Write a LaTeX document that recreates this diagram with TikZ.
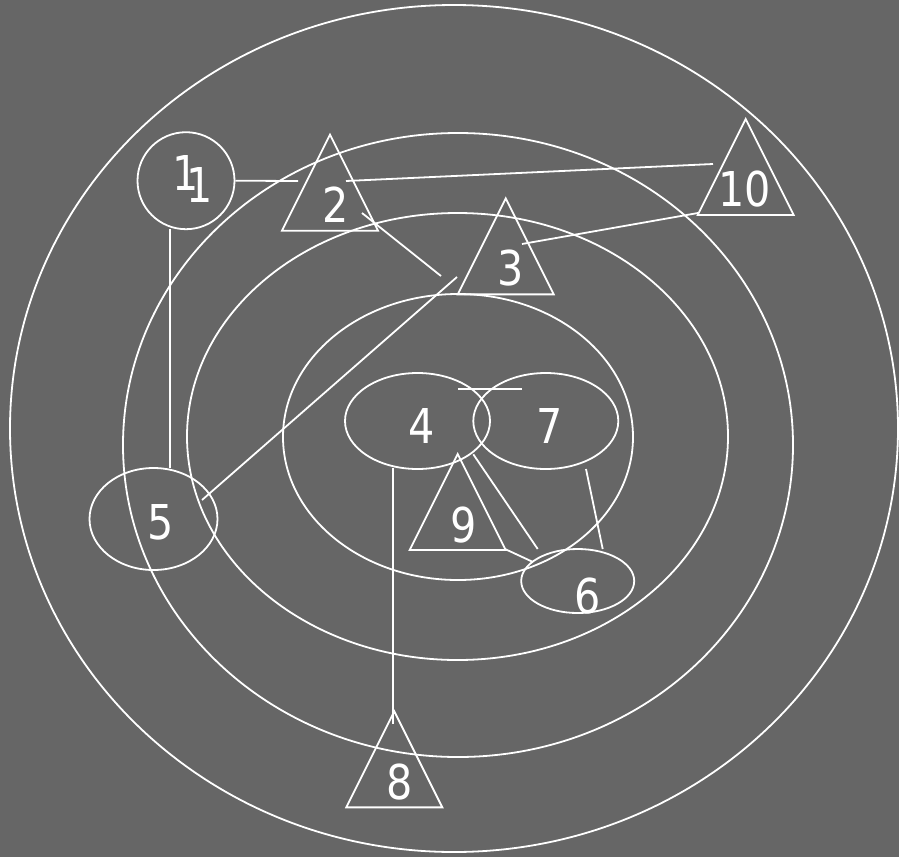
\documentclass[tikz,border=0pt]{standalone}
\usepackage{fontspec}
\setmainfont{DejaVu Sans}[FakeStretch=0.86]
\usetikzlibrary{shapes.geometric, calc}
\definecolor{slidegray}{RGB}{102,102,102}

\begin{document}
\begin{tikzpicture}[
      x=1pt, y=-1pt,
      line width=1.8pt,
      ring/.style={draw=white},
      oval/.style 2 args={draw=white, ellipse, inner sep=0pt, minimum width=#1, minimum height=#2},
      tri/.style={draw=white, isosceles triangle, shape border rotate=90,
                  isosceles triangle stretches, inner sep=0pt,
                  minimum width=96, minimum height=96, anchor=apex},
      num/.style={font=\fontsize{48}{48}\selectfont, text=white, inner sep=0pt},
      link/.style={draw=white}
  ]
    \fill[slidegray] (0,0) rectangle (899,857);
    \useasboundingbox (0,0) rectangle (899,857);

    % rings
    \draw[ring] (454,428.5) ellipse [x radius=444pt, y radius=423.5pt];
    \draw[ring] (458,445) ellipse [x radius=335pt, y radius=312pt];
    \draw[ring] (457.5,436.5) ellipse [x radius=270.5pt, y radius=223.5pt];
    \draw[ring] (458,437) ellipse [x radius=175pt, y radius=143pt];

    % shapes
    \node[draw=white, circle, inner sep=0pt, minimum size=97] (n1) at (186,180.7) {};
    \node[tri] (n2)  at (330,132.3) {};
    \node[tri] (n3)  at (505.7,196) {};
    \node[tri] (n10) at (745.7,116.7) {};
    \node[oval={145}{96}]  (n4) at (417.5,421) {};
    \node[oval={145}{96}]  (n7) at (545.8,421) {};
    \node[oval={128}{102}] (n5) at (153.5,519) {};
    \node[oval={113}{64}]  (n6) at (577.7,581) {};
    \node[tri] (n9) at (457.7,451.7) {};
    \node[tri] (n8) at (394.3,709) {};

    % numbers
    \node[num] (t1a) at (186,173)     {1};
    \node[num] (t1b) at (199.5,185)   {1};
    \node[num] (t2)  at (335.5,205)   {2};
    \node[num] (t3)  at (511,268)     {3};
    \node[num] (t10) at (744.5,189.5) {10};
    \node[num] (t4)  at (421.5,426)   {4};
    \node[num] (t7)  at (550,426)     {7};
    \node[num] (t9)  at (463.7,525.5) {9};
    \node[num] (t6)  at (588,596.5)   {6};
    \node[num] (t5)  at (161,522.5)   {5};
    \node[num] (t8)  at (399.7,782.5) {8};

    % connector ends
    \coordinate (to2)    at (298,181);
    \coordinate (from2)  at (346,181);
    \coordinate (to10)   at (713,164);
    \coordinate (out2)   at (362,213);
    \coordinate (mid23)  at (441,276);
    \coordinate (from3)  at (522,244);
    \coordinate (base10) at (698,213);
    \coordinate (out3)   at (457,277);
    \coordinate (in5)    at (202,500);
    \coordinate (down1)  at (170,229);
    \coordinate (top5)   at (170,468);
    \coordinate (left7)  at (458,389);
    \coordinate (right4) at (522,389);
    \coordinate (down4)  at (393.3,468);
    \coordinate (top8)   at (393.3,724);
    \coordinate (out4)   at (473.3,454.3);
    \coordinate (top6)   at (537.7,549);
    \coordinate (base9)  at (505,549);
    \coordinate (left6)  at (533,562);
    \coordinate (down7)  at (586,469);
    \coordinate (right6) at (602.7,549);

    \draw[link] (n1.east) -- (to2);
    \draw[link] (from2)  -- (to10);
    \draw[link] (out2)   -- (mid23);
    \draw[link] (from3)  -- (base10);
    \draw[link] (out3)   -- (in5);
    \draw[link] (down1)  -- (top5);
    \draw[link] (left7)  -- (right4);
    \draw[link] (down4)  -- (top8);
    \draw[link] (out4)   -- (top6);
    \draw[link] (base9)  -- (left6);
    \draw[link] (down7)  -- (right6);
  \end{tikzpicture}
\end{document}
